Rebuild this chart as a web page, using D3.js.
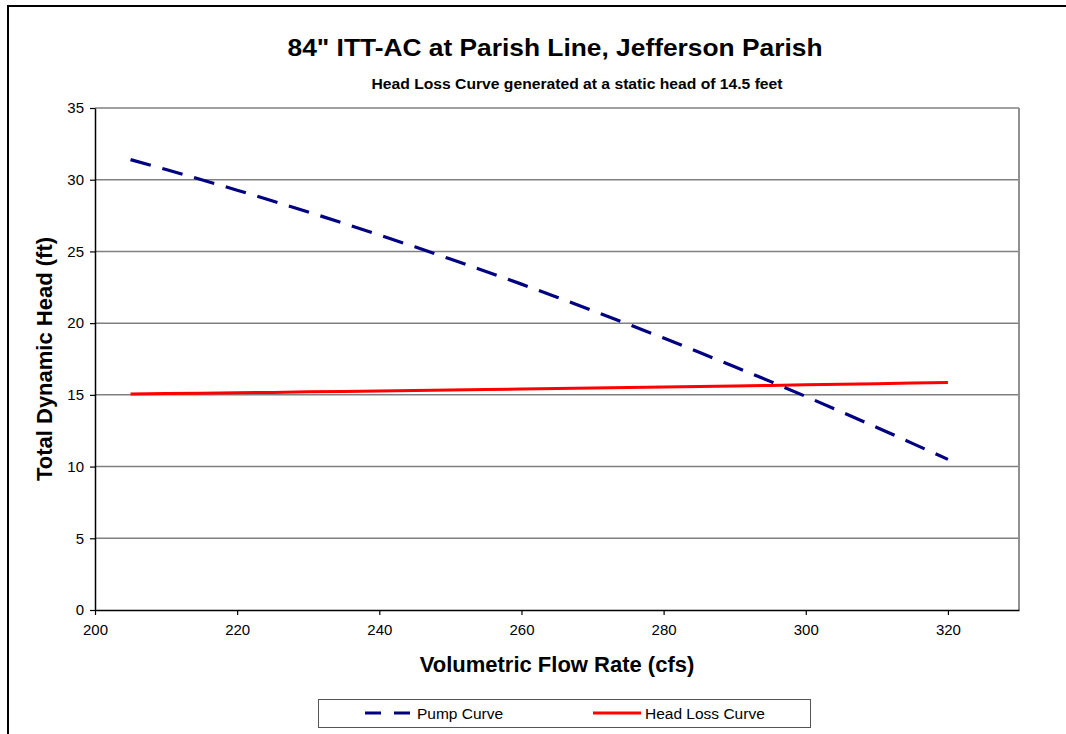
<!DOCTYPE html>
<html>
<head>
<meta charset="utf-8">
<script src="https://cdn.jsdelivr.net/npm/d3@7"></script>
<style>
  body { margin: 0; background: #fff; }
  svg text { font-family: "Liberation Sans", Arial, sans-serif; fill: #000; }
</style>
</head>
<body>
<svg id="chart" width="1066" height="734"></svg>
<script>
// flow rate (cfs) shared by both curves
var flow = [205, 210, 215, 220, 225, 230, 235, 240, 245, 250, 255, 260,
            265, 270, 275, 280, 285, 290, 295, 300, 305, 310, 315, 320];
// pump curve head (ft)
var pumpHead = [31.40, 30.71, 30.00, 29.27, 28.52, 27.75, 26.96, 26.15, 25.32, 24.47, 23.60, 22.72,
                21.81, 20.88, 19.93, 18.96, 17.97, 16.96, 15.94, 14.89, 13.82, 12.73, 11.62, 10.50];
// system head loss curve (ft), static head 14.5
var lossHead = [15.06, 15.09, 15.12, 15.15, 15.17, 15.21, 15.24, 15.27, 15.30, 15.33, 15.37, 15.40,
                15.44, 15.47, 15.51, 15.55, 15.58, 15.62, 15.66, 15.70, 15.74, 15.78, 15.82, 15.87];
var xTicks = [200, 220, 240, 260, 280, 300, 320];
var yTicks = [0, 5, 10, 15, 20, 25, 30, 35];

var svg = d3.select("#chart");
var plot = {left: 95, top: 108, right: 1019, bottom: 610};

// outer chart frame
svg.append("rect").attr("x", 8).attr("y", 6).attr("width", 1070).attr("height", 740)
    .attr("fill", "none").attr("stroke", "#000").attr("stroke-width", 2);

var x = d3.scaleLinear().domain([200, 330]).range([plot.left, plot.right]);
var y = d3.scaleLinear().domain([0, 35]).range([plot.bottom, plot.top]);

// gridlines
svg.append("g").selectAll("line")
    .data(yTicks.filter(d => d > 0))
    .enter().append("line")
    .attr("x1", plot.left).attr("x2", plot.right)
    .attr("y1", d => y(d)).attr("y2", d => y(d))
    .attr("stroke", "#808080").attr("stroke-width", 1.5);

// right side of plot area
svg.append("line")
    .attr("x1", plot.right).attr("x2", plot.right)
    .attr("y1", plot.top).attr("y2", plot.bottom)
    .attr("stroke", "#909090").attr("stroke-width", 2);

// axes
var xAxis = svg.append("g").attr("transform", "translate(0," + plot.bottom + ")")
    .call(d3.axisBottom(x).tickValues(xTicks).tickSize(5).tickPadding(9).tickSizeOuter(0));
var yAxis = svg.append("g").attr("transform", "translate(" + plot.left + ",0)")
    .call(d3.axisLeft(y).tickValues(yTicks).tickSize(5).tickPadding(6).tickSizeOuter(0));
[xAxis, yAxis].forEach(function (a) {
    a.select(".domain").attr("stroke", "#000").attr("stroke-width", 1.5);
    a.selectAll(".tick line").attr("stroke", "#000").attr("stroke-width", 1.2);
    a.selectAll("text").attr("font-size", 15).attr("font-family", "Liberation Sans, Arial, sans-serif");
});

var line = d3.line()
    .x((d, i) => x(flow[i]))
    .y(d => y(d));

svg.append("path").datum(lossHead)
    .attr("d", line)
    .attr("fill", "none").attr("stroke", "#ff0000").attr("stroke-width", 3);

svg.append("path").datum(pumpHead)
    .attr("d", line)
    .attr("fill", "none").attr("stroke", "#000080").attr("stroke-width", 3.2)
    .attr("stroke-dasharray", "21,12");

// titles
svg.append("text").attr("x", 555).attr("y", 56).attr("text-anchor", "middle")
    .attr("font-size", 24).attr("font-weight", "bold")
    .attr("textLength", 535).attr("lengthAdjust", "spacingAndGlyphs")
    .text('84" ITT-AC at Parish Line, Jefferson Parish');
svg.append("text").attr("x", 577).attr("y", 89).attr("text-anchor", "middle")
    .attr("font-size", 14).attr("font-weight", "bold")
    .attr("textLength", 411).attr("lengthAdjust", "spacingAndGlyphs")
    .text("Head Loss Curve generated at a static head of 14.5 feet");
svg.append("text").attr("x", 557).attr("y", 672).attr("text-anchor", "middle")
    .attr("font-size", 22).attr("font-weight", "bold")
    .text("Volumetric Flow Rate (cfs)");
svg.append("text").attr("transform", "translate(52,359) rotate(-90)").attr("text-anchor", "middle")
    .attr("font-size", 22).attr("font-weight", "bold")
    .text("Total Dynamic Head (ft)");

// legend
var legend = svg.append("g");
legend.append("rect").attr("x", 318.5).attr("y", 699.5).attr("width", 492).attr("height", 28)
    .attr("fill", "#fff").attr("stroke", "#555").attr("stroke-width", 1);
var legendItems = [
    {name: "Pump Curve", color: "#000080", dash: "16,13", x0: 365},
    {name: "Head Loss Curve", color: "#ff0000", dash: null, x0: 593}
];
legendItems.forEach(function (d) {
    legend.append("line").attr("x1", d.x0).attr("x2", d.x0 + 48).attr("y1", 713).attr("y2", 713)
        .attr("stroke", d.color).attr("stroke-width", 3)
        .attr("stroke-dasharray", d.dash);
    legend.append("text").attr("x", d.x0 + 52).attr("y", 719).attr("font-size", 15.5).text(d.name);
});
</script>
</body>
</html>
